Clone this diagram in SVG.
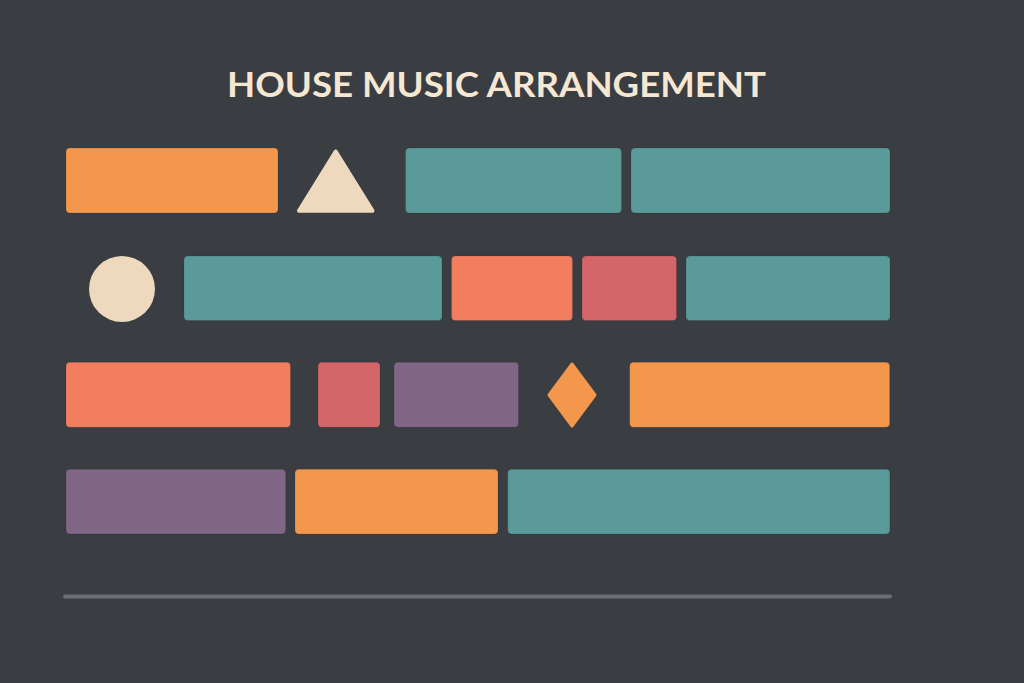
<svg xmlns="http://www.w3.org/2000/svg" width="1024" height="683" viewBox="0 0 1024 683">
<style>
.bg{fill:#3a3d42}
.blk{stroke:#000;stroke-opacity:0.12;stroke-width:1}
.orange{fill:#f3974d}
.teal{fill:#5a9b9a}
.cream{fill:#eed9bf}
.coral{fill:#f27e5f}
.red{fill:#d4666a}
.purple{fill:#806786}
.title{font-family:Lato,"Noto Sans","DejaVu Sans",sans-serif;font-weight:700;font-size:35px;fill:#f6e7d3}
</style>
<rect class="bg" x="0" y="0" width="1024" height="683"/>
<text class="title" x="227" y="97" textLength="539" lengthAdjust="spacingAndGlyphs">HOUSE MUSIC ARRANGEMENT</text>
<g id="row1">
<g id="n1"><rect class="orange blk" x="66" y="148" width="212" height="65" rx="4"/></g>
<g id="n2"><path class="cream" d="M335.7 151.5 L372.5 210.7 L299 210.7 Z" stroke="#eed9bf" stroke-width="4" stroke-linejoin="round"/></g>
<g id="n3"><rect class="teal blk" x="405.5" y="148" width="216" height="65" rx="4"/></g>
<g id="n4"><rect class="teal blk" x="631" y="148" width="259" height="65" rx="4"/></g>
</g>
<g id="row2">
<g id="n5"><circle class="cream" cx="122" cy="289" r="33"/></g>
<g id="n6"><rect class="teal blk" x="184" y="256" width="258" height="64.5" rx="4"/></g>
<g id="n7"><rect class="coral blk" x="451.5" y="256" width="121" height="64.5" rx="4"/></g>
<g id="n8"><rect class="red blk" x="582" y="256" width="94.5" height="64.5" rx="4"/></g>
<g id="n9"><rect class="teal blk" x="686" y="256" width="204" height="64.5" rx="4"/></g>
</g>
<g id="row3">
<g id="n10"><rect class="coral blk" x="66" y="362.3" width="224.5" height="65" rx="4"/></g>
<g id="n11"><rect class="red blk" x="318" y="362.3" width="62" height="65" rx="4"/></g>
<g id="n12"><rect class="purple blk" x="394" y="362.3" width="124.5" height="65" rx="4"/></g>
<g id="n13"><path class="orange" d="M572 364 L595 395 L572 426 L549 395 Z" stroke="#f3974d" stroke-width="3" stroke-linejoin="round"/></g>
<g id="n14"><rect class="orange blk" x="629.7" y="362.3" width="260" height="65" rx="4"/></g>
</g>
<g id="row4">
<g id="n15"><rect class="purple blk" x="66" y="469.3" width="219.7" height="64.7" rx="4"/></g>
<g id="n16"><rect class="orange blk" x="295" y="469.3" width="203" height="64.7" rx="4"/></g>
<g id="n17"><rect class="teal blk" x="507.7" y="469.3" width="382.2" height="64.7" rx="4"/></g>
</g>
<g id="connectors">
<line x1="65" y1="596.5" x2="890" y2="596.5" stroke="#6b6f74" stroke-width="4" stroke-linecap="round"/>
</g>
</svg>
